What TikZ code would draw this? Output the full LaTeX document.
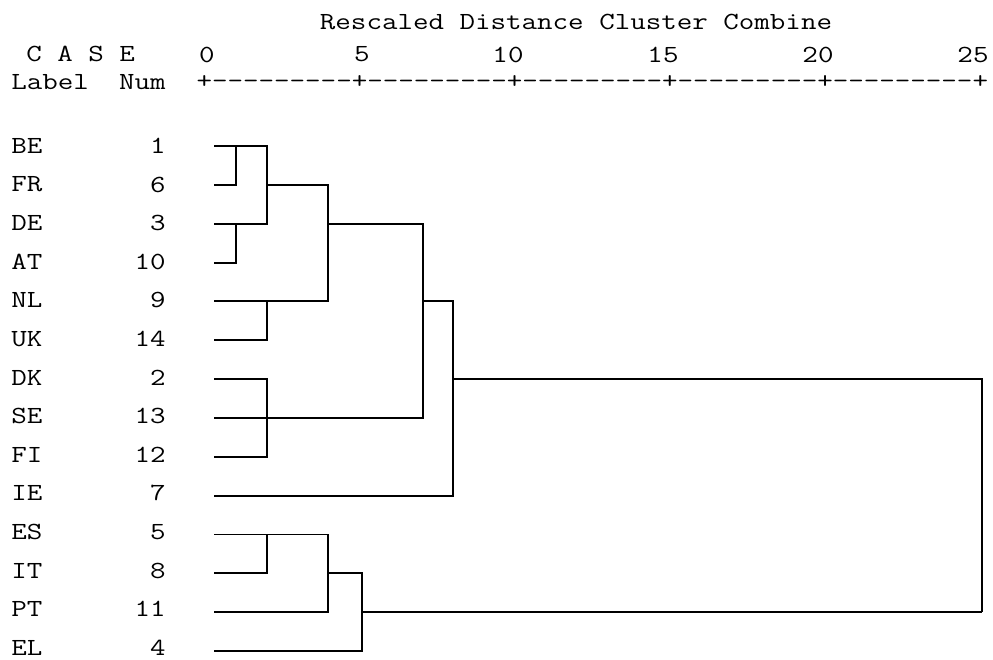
\documentclass[tikz,border=0pt]{standalone}
\usepackage{graphicx}
\newcommand{\ct}[1]{\scalebox{1.225}[1]{#1}}
\newcommand{\hy}{\mbox{-}}
\newcommand{\seg}{+\hy\hy\hy\hy\hy\hy\hy\hy\hy}
\begin{document}
\begin{tikzpicture}[x=0.02cm,y=-0.02cm,
    txt/.style={font=\ttfamily\fontsize{14}{16}\selectfont,inner sep=0pt},
    tree/.style={line width=1.1pt}]
    \useasboundingbox (0,0) rectangle (993,659);
    \node[txt] (title) at (576,21.5) {\ct{Rescaled Distance Cluster Combine}};
    \node[txt,anchor=west] (case) at (26,54) {\ct{C A S E}};
    \foreach \v/\x in {0/207,5/362,10/508,15/663,20/818,25/973}
        \node[txt] (t\v) at (\x,54.5) {\ct{\v}};
    \node[txt,anchor=west] (label) at (11,82) {\ct{Label}};
    \node[txt,anchor=east] (num) at (166,82) {\ct{Num}};
    \node[txt,anchor=west] (ruler) at (196.25,82) {\ct{\seg\seg\seg\seg\seg+}};
    \foreach \n/\k [count=\i from 0] in {BE/1,FR/6,DE/3,AT/10,NL/9,UK/14,DK/2,SE/13,FI/12,IE/7,ES/5,IT/8,PT/11,EL/4}{
        \node[txt,anchor=west] (lab\n) at (11,{146+38.6*\i}) {\ct{\n}};
        \node[txt,anchor=east] (num\n) at (166,{146+38.6*\i}) {\ct{\k}};
        \coordinate (\n) at (214,{146+38.85*\i});
    }
    \coordinate (c1) at (236,0);
    \coordinate (c2) at (267,0);
    \coordinate (c3) at (328,0);
    \coordinate (c4) at (362,0);
    \coordinate (c5) at (423,0);
    \coordinate (c6) at (453,0);
    \coordinate (c7) at (982,0);
    \draw[tree] (BE) -- (BE -| c2) -- (DE -| c2) -- (DE);
    \draw[tree] (FR) -| (BE -| c1);
    \draw[tree] (AT) -| (DE -| c1);
    \draw[tree] (FR -| c2) -- (FR -| c3) -- (NL -| c3) -- (NL);
    \draw[tree] (UK) -| (NL -| c2);
    \draw[tree] (DE -| c3) -- (DE -| c5) -- (SE -| c5) -- (SE);
    \draw[tree] (DK) -- (DK -| c2) -- (FI -| c2) -- (FI);
    \draw[tree] (NL -| c5) -- (NL -| c6) -- (IE -| c6) -- (IE);
    \draw[tree] (DK -| c6) -- (DK -| c7) -- (PT -| c7);
    \draw[tree] (ES) -- (ES -| c3) -- (PT -| c3) -- (PT);
    \draw[tree] (IT) -| (ES -| c2);
    \draw[tree] (IT -| c3) -- (IT -| c4) -- (EL -| c4) -- (EL);
    \draw[tree] (PT -| c4) -- (PT -| c7);
\end{tikzpicture}
\end{document}
